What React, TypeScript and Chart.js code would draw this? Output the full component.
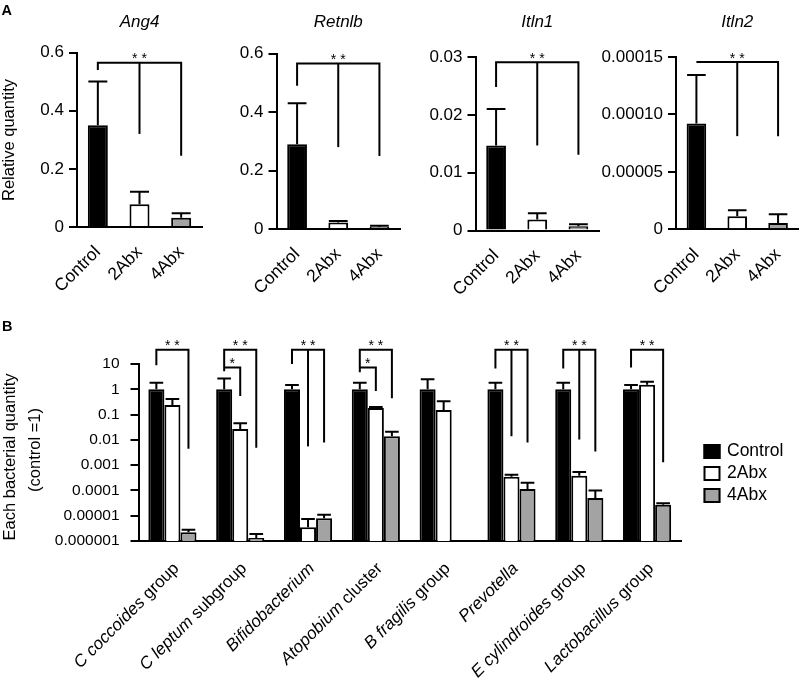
import React, { useEffect, useRef } from "react";
import { Chart, registerables } from "chart.js";

Chart.register(...registerables);

const FONT = "'Liberation Sans', Arial, Helvetica, sans-serif";
const BAR_COLORS = ["#000000", "#ffffff", "#a3a3a3"];

// ---------------- Panel A data ----------------
const aGenes = ["Ang4", "Retnlb", "Itln1", "Itln2"];
const aGroups = ["Control", "2Abx", "4Abx"];
const ang4Mean = [0.35, 0.078, 0.032];
const ang4Sd = [0.15, 0.043, 0.015];
const retnlbMean = [0.29, 0.022, 0.007];
const retnlbSd = [0.14, 0.005, 0.004];
const itln1Mean = [0.0147, 0.0019, 0.00075];
const itln1Sd = [0.0063, 0.0011, 0.00035];
const itln2Mean = [0.000092, 0.0000113, 0.0000055];
const itln2Sd = [0.0000424, 0.0000053, 0.0000076];
const aYMax = [0.6, 0.6, 0.03, 0.00015];
const aTickValues = [
  [0, 0.2, 0.4, 0.6],
  [0, 0.2, 0.4, 0.6],
  [0, 0.01, 0.02, 0.03],
  [0, 0.00005, 0.0001, 0.00015],
];
const aTickLabels = [
  ["0", "0.2", "0.4", "0.6"],
  ["0", "0.2", "0.4", "0.6"],
  ["0", "0.01", "0.02", "0.03"],
  ["0", "0.00005", "0.00010", "0.00015"],
];
const aYTitle = "Relative quantity";
const aSigLabel = "* *";
const aSigTop = [0.565, 0.566, 0.0291, 0.0001456];
const aSigLegs = [
  [0.54, 0.32, 0.245],
  [0.49, 0.28, 0.25],
  [0.0248, 0.0147, 0.0131],
  [0.0001456, 0.0000811, 0.0000811],
];
const aMeans = [ang4Mean, retnlbMean, itln1Mean, itln2Mean];
const aSds = [ang4Sd, retnlbSd, itln1Sd, itln2Sd];

// ---------------- Panel B data ----------------
const bCategoryItalic = [
  "C coccoides",
  "C leptum",
  "Bifidobacterium",
  "Atopobium",
  "B fragilis",
  "Prevotella",
  "E cylindroides",
  "Lactobacillus",
];
const bCategorySuffix = [" group", " subgroup", "", " cluster", " group", "", " group", " group"];
const bCategories = bCategoryItalic.map((s, i) => s + bCategorySuffix[i]);
const bSeries = ["Control", "2Abx", "4Abx"];
const bControl = [1, 1, 1, 1, 1, 1, 1, 1];
const bControlSd = [0.82, 1.7, 0.48, 0.82, 1.5, 0.82, 0.82, 0.48];
const b2Abx = [0.24, 0.027, 0.0000035, 0.18, 0.15, 0.00035, 0.00038, 1.5];
const b2AbxSd = [0.17, 0.018, 0.0000039, 0.02, 0.19, 0.00007, 0.00016, 0.5];
const b4Abx = [0.0000022, 0.0000013, 0.000008, 0.014, null, 0.000115, 0.00005, 0.000027];
const b4AbxSd = [0.0000006, 0.0000006, 0.000003, 0.007, null, 0.000085, 0.00005, 0.000004];
const bTickValues = [0.000001, 0.00001, 0.0001, 0.001, 0.01, 0.1, 1, 10];
const bTickLabels = ["0.000001", "0.00001", "0.0001", "0.001", "0.01", "0.1", "1", "10"];
const bYTitle = ["Each bacterial quantity", "(control =1)"];
// significance brackets (Control vs 2Abx / 4Abx)
const bSigGroup = [0, 1, 2, 3, 5, 6, 7];
const bSigLabel = "* *";
const bSigTop = 37;
const bSigLegControl = [9, 5.2, 9.9, 4.7, 6.6, 6.6, 7.3];
const bSigLeg2Abx = [null, null, 0.0055, null, 0.0139, 0.0103, null];
const bSigLeg4Abx = [0.0045, 0.0049, 0.0078, 0.44, 0.0078, 0.0035, 0.0013];
const bInnerGroup = [1, 3];
const bInnerLabel = "*";
const bInnerTop = 7.3;
const bInnerLeg2Abx = [0.54, 0.86];

// ---------------- layout (pixels) ----------------
const A_LAYOUT = [
  { cl: 0, cw: 210, left: 77, right: 202, top: 52.5, bottom: 227 },
  { cl: 200, cw: 205, left: 276.5, right: 400, top: 53.5, bottom: 229 },
  { cl: 400, cw: 205, left: 475.5, right: 599, top: 57, bottom: 230.5 },
  { cl: 590, cw: 210, left: 676, right: 799.5, top: 57, bottom: 229.3 },
];
const A_H = 300;
const B_TOP = 300;
const B_H = 380;
const B_AREA = { left: 138.5, right: 681, top: 364, bottom: 541 };

function errorBar(ctx: CanvasRenderingContext2D, x: number, capW: number, yBase: number, yTop: number) {
  ctx.save();
  ctx.strokeStyle = "#000";
  ctx.lineWidth = 2;
  ctx.beginPath();
  ctx.moveTo(x, yBase);
  ctx.lineTo(x, yTop);
  ctx.moveTo(x - capW / 2, yTop);
  ctx.lineTo(x + capW / 2, yTop);
  ctx.stroke();
  ctx.restore();
}

function strokePath(ctx: CanvasRenderingContext2D, pts: number[][]) {
  ctx.save();
  ctx.strokeStyle = "#000";
  ctx.lineWidth = 2;
  ctx.lineJoin = "miter";
  ctx.beginPath();
  pts.forEach((p, i) => (i === 0 ? ctx.moveTo(p[0], p[1]) : ctx.lineTo(p[0], p[1])));
  ctx.stroke();
  ctx.restore();
}

function text(ctx: CanvasRenderingContext2D, s: string, x: number, y: number, font: string, align: CanvasTextAlign = "center", baseline: CanvasTextBaseline = "alphabetic", rot = 0) {
  ctx.save();
  ctx.translate(x, y);
  if (rot) ctx.rotate(rot);
  ctx.font = font;
  ctx.fillStyle = "#000";
  ctx.textAlign = align;
  ctx.textBaseline = baseline;
  ctx.fillText(s, 0, 0);
  ctx.restore();
}

function makeAConfig(k: number): any {
  const L = A_LAYOUT[k];
  const plugin = {
    id: "aExtras" + k,
    afterDatasetsDraw(chart: any) {
      const ctx = chart.ctx as CanvasRenderingContext2D;
      const ys = chart.scales.y;
      const meta = chart.getDatasetMeta(0);
      meta.data.forEach((bar: any, i: number) => {
        const v = aMeans[k][i];
        const s = aSds[k][i];
        errorBar(ctx, bar.x, bar.width * 0.95, ys.getPixelForValue(v), ys.getPixelForValue(v + s));
      });
      const xs = meta.data.map((b: any) => b.x);
      const yTop = ys.getPixelForValue(aSigTop[k]);
      const legs = aSigLegs[k];
      strokePath(ctx, [
        [xs[0], ys.getPixelForValue(legs[0])],
        [xs[0], yTop],
        [xs[2], yTop],
        [xs[2], ys.getPixelForValue(legs[2])],
      ]);
      strokePath(ctx, [
        [xs[1], yTop],
        [xs[1], ys.getPixelForValue(legs[1])],
      ]);
      text(ctx, aSigLabel, (xs[0] + xs[2]) / 2, yTop + 0.5, `14px ${FONT}`);
    },
    afterDraw(chart: any) {
      const ctx = chart.ctx as CanvasRenderingContext2D;
      const a = chart.chartArea;
      text(ctx, aGenes[k], (a.left + a.right) / 2, 27, `italic 17px ${FONT}`);
      if (k === 0) {
        text(ctx, "A", 1.5, 14.5, `bold 14.5px ${FONT}`, "left");
        text(ctx, aYTitle, 9 - L.cl, 140, `16.5px ${FONT}`, "center", "middle", -Math.PI / 2);
      }
    },
  };
  return {
    type: "bar",
    data: {
      labels: aGroups,
      datasets: [
        {
          data: aMeans[k],
          backgroundColor: BAR_COLORS,
          borderColor: "#000",
          borderWidth: 2,
          barPercentage: 0.48,
          categoryPercentage: 1,
        },
      ],
    },
    options: {
      animation: false,
      responsive: false,
      maintainAspectRatio: false,
      events: [],
      layout: { padding: { left: 0, top: L.top, right: L.cl + L.cw - L.right, bottom: 0 } },
      plugins: { legend: { display: false }, tooltip: { enabled: false }, title: { display: false } },
      scales: {
        x: {
          grid: { display: false },
          border: { display: true, color: "#000", width: 2 },
          ticks: { color: "#000", font: { family: FONT, size: 17.5 }, minRotation: 45, maxRotation: 45, autoSkip: false, padding: 7 },
          afterFit: (s: any) => {
            s.height = A_H - L.bottom;
          },
        },
        y: {
          min: 0,
          max: aYMax[k],
          grid: { display: true, drawOnChartArea: false, drawTicks: true, tickLength: 8, color: "#000", lineWidth: 2 },
          border: { display: true, color: "#000", width: 2 },
          ticks: {
            color: "#000",
            font: { family: FONT, size: 17 },
            padding: 5,
            callback: (v: number) => {
              const idx = aTickValues[k].findIndex((t) => Math.abs(t - v) < aYMax[k] * 1e-6);
              return idx >= 0 ? aTickLabels[k][idx] : "";
            },
          },
          afterBuildTicks: (s: any) => {
            s.ticks = aTickValues[k].map((v) => ({ value: v }));
          },
          afterFit: (s: any) => {
            s.width = L.left - L.cl;
          },
        },
      },
    },
    plugins: [plugin],
  };
}

function drawRotatedLabel(ctx: CanvasRenderingContext2D, parts: { t: string; it: boolean }[], x: number, y: number, size: number) {
  ctx.save();
  ctx.translate(x, y);
  ctx.rotate(-Math.PI / 4);
  ctx.fillStyle = "#000";
  ctx.textBaseline = "middle";
  ctx.textAlign = "left";
  const fonts = parts.map((p) => `${p.it ? "italic " : ""}${size}px ${FONT}`);
  const widths = parts.map((p, i) => {
    ctx.font = fonts[i];
    return ctx.measureText(p.t).width;
  });
  let cx = -widths.reduce((a, b) => a + b, 0);
  parts.forEach((p, i) => {
    ctx.font = fonts[i];
    ctx.fillText(p.t, cx, 0);
    cx += widths[i];
  });
  ctx.restore();
}

function makeBConfig(): any {
  const means = [bControl, b2Abx, b4Abx];
  const sds = [bControlSd, b2AbxSd, b4AbxSd];
  const plugin = {
    id: "bExtras",
    afterDatasetsDraw(chart: any) {
      const ctx = chart.ctx as CanvasRenderingContext2D;
      const ys = chart.scales.y;
      const py = (v: number) => ys.getPixelForValue(v);
      chart.data.datasets.forEach((ds: any, di: number) => {
        chart.getDatasetMeta(di).data.forEach((bar: any, i: number) => {
          const v = means[di][i];
          const s = sds[di][i];
          if (v == null || s == null) return;
          errorBar(ctx, bar.x, bar.width * 0.85, py(v), py(v + s));
        });
      });
      const cx = (d: number, g: number) => chart.getDatasetMeta(d).data[g].x;
      bSigGroup.forEach((g, j) => {
        const yTop = py(bSigTop);
        strokePath(ctx, [
          [cx(0, g), py(bSigLegControl[j])],
          [cx(0, g), yTop],
          [cx(2, g), yTop],
          [cx(2, g), py(bSigLeg4Abx[j])],
        ]);
        const m = bSigLeg2Abx[j];
        if (m != null) strokePath(ctx, [[cx(1, g), yTop], [cx(1, g), py(m)]]);
        text(ctx, bSigLabel, (cx(0, g) + cx(2, g)) / 2, yTop + 0.5, `14px ${FONT}`);
      });
      bInnerGroup.forEach((g, j) => {
        const yTop = py(bInnerTop);
        strokePath(ctx, [
          [cx(0, g), yTop],
          [cx(1, g), yTop],
          [cx(1, g), py(bInnerLeg2Abx[j])],
        ]);
        text(ctx, bInnerLabel, (cx(0, g) + cx(1, g)) / 2, yTop + 1, `14px ${FONT}`);
      });
    },
    afterDraw(chart: any) {
      const ctx = chart.ctx as CanvasRenderingContext2D;
      const xs = chart.scales.x;
      const a = chart.chartArea;
      bCategories.forEach((_, i) => {
        const parts = [{ t: bCategoryItalic[i], it: true }];
        if (bCategorySuffix[i]) parts.push({ t: bCategorySuffix[i], it: false });
        drawRotatedLabel(ctx, parts, xs.getPixelForValue(i) + 4, a.bottom + 25, 17);
      });
      // panel label and axis title
      text(ctx, "B", 2, 330.5 - B_TOP, `bold 14.5px ${FONT}`, "left");
      text(ctx, bYTitle[0], 10, 457 - B_TOP, `16.5px ${FONT}`, "center", "middle", -Math.PI / 2);
      text(ctx, bYTitle[1], 35, 450 - B_TOP, `16.5px ${FONT}`, "center", "middle", -Math.PI / 2);
      // legend
      const ly = [451.5, 473.5, 495.5];
      bSeries.forEach((s, i) => {
        const y = ly[i] - B_TOP;
        ctx.save();
        ctx.fillStyle = BAR_COLORS[i];
        ctx.fillRect(703.5, y - 7.5, 17, 15);
        ctx.strokeStyle = "#000";
        ctx.lineWidth = 2;
        ctx.strokeRect(704.5, y - 6.5, 15, 13);
        ctx.restore();
        text(ctx, s, 727, y, `17.5px ${FONT}`, "left", "middle");
      });
    },
  };
  return {
    type: "bar",
    data: {
      labels: bCategories,
      datasets: bSeries.map((s, i) => ({
        label: s,
        data: means[i],
        backgroundColor: BAR_COLORS[i],
        borderColor: "#000",
        borderWidth: 2,
        barPercentage: 1,
        categoryPercentage: 0.71,
      })),
    },
    options: {
      animation: false,
      responsive: false,
      maintainAspectRatio: false,
      events: [],
      layout: { padding: { left: 0, top: B_AREA.top - B_TOP, right: 800 - B_AREA.right, bottom: 0 } },
      plugins: { legend: { display: false }, tooltip: { enabled: false }, title: { display: false } },
      scales: {
        x: {
          grid: { display: false },
          border: { display: true, color: "#000", width: 2 },
          ticks: { display: false },
          afterFit: (s: any) => {
            s.height = B_H - (B_AREA.bottom - B_TOP);
          },
        },
        y: {
          type: "logarithmic",
          min: 0.000001,
          max: 10,
          grid: { display: true, drawOnChartArea: false, drawTicks: true, tickLength: 8, color: "#000", lineWidth: 2 },
          border: { display: true, color: "#000", width: 2 },
          ticks: {
            color: "#000",
            font: { family: FONT, size: 15.5 },
            padding: 11,
            autoSkip: false,
            callback: (v: number) => {
              const idx = bTickValues.findIndex((t) => Math.abs(Math.log10(t) - Math.log10(v)) < 1e-6);
              return idx >= 0 ? bTickLabels[idx] : "";
            },
          },
          afterBuildTicks: (s: any) => {
            s.ticks = bTickValues.map((v) => ({ value: v }));
          },
          afterFit: (s: any) => {
            s.width = B_AREA.left;
          },
        },
      },
    },
    plugins: [plugin],
  };
}

function ChartCanvas({ left, top, width, height, make }: { left: number; top: number; width: number; height: number; make: () => any }) {
  const ref = useRef<HTMLCanvasElement>(null);
  useEffect(() => {
    const chart = new Chart(ref.current as HTMLCanvasElement, make());
    return () => chart.destroy();
  }, []);
  return (
    <canvas
      ref={ref}
      width={width}
      height={height}
      style={{ position: "absolute", left, top, width, height, display: "block" }}
    />
  );
}

export default function App() {
  return (
    <div style={{ position: "absolute", left: 0, top: 0, width: 800, height: 680, background: "#fff", overflow: "hidden" }}>
      {A_LAYOUT.map((L, k) => (
        <ChartCanvas key={k} left={L.cl} top={0} width={L.cw} height={A_H} make={() => makeAConfig(k)} />
      ))}
      <ChartCanvas left={0} top={B_TOP} width={800} height={B_H} make={makeBConfig} />
    </div>
  );
}
